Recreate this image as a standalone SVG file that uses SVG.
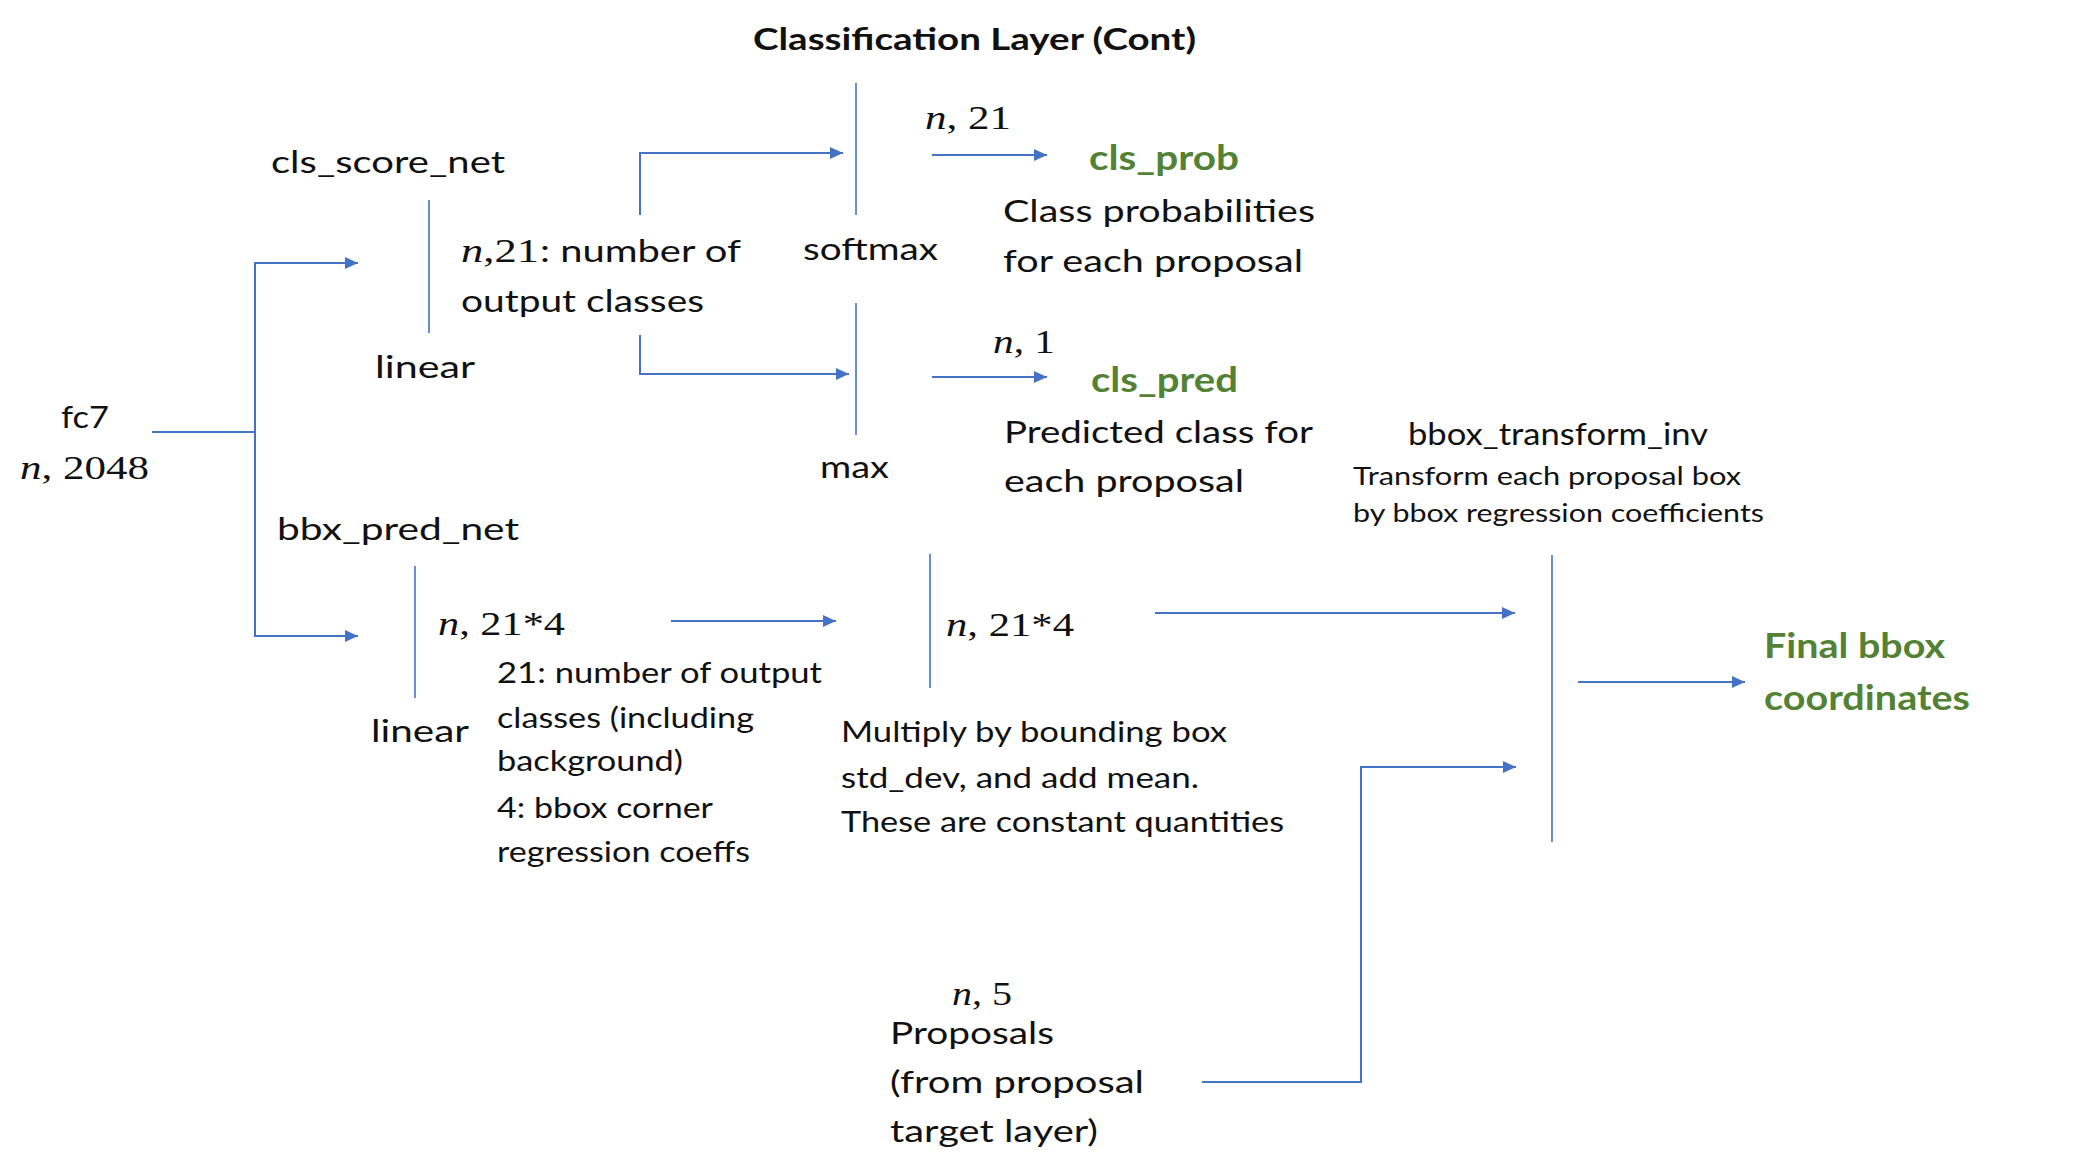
<svg xmlns="http://www.w3.org/2000/svg" width="2074" height="1166" viewBox="0 0 2074 1166">
<style>
.t{font-family:Lato,"Open Sans","Liberation Sans",sans-serif;fill:#111;font-size:31px}
.s{font-size:28px}
.xs{font-size:25px}
.b{font-weight:bold}
.g{fill:#548235;font-weight:bold;font-size:34px}
.m{font-family:"Liberation Serif","DejaVu Serif",serif;fill:#111;font-size:34px}
.i{font-style:italic}
.c{fill:none;stroke:#4472C4;stroke-width:2}
.bar{fill:none;stroke:#4472C4;stroke-width:1.6}
</style>
<defs>
<marker id="ah" markerUnits="userSpaceOnUse" markerWidth="14" markerHeight="12" refX="13" refY="6" orient="auto">
<path d="M0,0 L13,6 L0,12 z" fill="#4472C4"/>
</marker>
</defs>
<rect width="2074" height="1166" fill="#fff"/>

<g id="title"><text class="t b" x="753" y="50" font-size="33" textLength="443" lengthAdjust="spacingAndGlyphs">Classification Layer (Cont)</text></g>

<g id="connectors">
<path class="c" d="M152,432 H255"/>
<path class="c" d="M255,432 V263 H358" marker-end="url(#ah)"/>
<path class="c" d="M255,432 V636 H358" marker-end="url(#ah)"/>
<path class="c" d="M640,215 V153 H843" marker-end="url(#ah)"/>
<path class="c" d="M640,335 V374 H849" marker-end="url(#ah)"/>
<path class="c" d="M932,155 H1047" marker-end="url(#ah)"/>
<path class="c" d="M932,377 H1047" marker-end="url(#ah)"/>
<path class="c" d="M671,621 H836" marker-end="url(#ah)"/>
<path class="c" d="M1155,613 H1515" marker-end="url(#ah)"/>
<path class="c" d="M1202,1082 H1361 V767 H1516" marker-end="url(#ah)"/>
<path class="c" d="M1578,682 H1745" marker-end="url(#ah)"/>
</g>

<g id="fc7">
<text class="t" x="61" y="428" textLength="48" lengthAdjust="spacingAndGlyphs">fc7</text>
<text class="m" x="20" y="479" font-size="42" textLength="129" lengthAdjust="spacingAndGlyphs"><tspan class="i">n</tspan>, 2048</text>
</g>

<g id="cls_score_net">
<text class="t" x="271" y="173" textLength="234" lengthAdjust="spacingAndGlyphs">cls_score_net</text>
<line class="bar" x1="429" y1="200" x2="429" y2="333"/>
<text class="t" x="375" y="378" textLength="100" lengthAdjust="spacingAndGlyphs">linear</text>
<text class="m" x="461" y="262" font-size="35" textLength="78" lengthAdjust="spacingAndGlyphs"><tspan class="i">n</tspan>,21</text>
<text class="t" x="540" y="262" textLength="201" lengthAdjust="spacingAndGlyphs">: number of</text>
<text class="t" x="461" y="312" textLength="243" lengthAdjust="spacingAndGlyphs">output classes</text>
</g>

<g id="softmax">
<line class="bar" x1="856" y1="83" x2="856" y2="215"/>
<text class="t" x="803" y="260" textLength="135" lengthAdjust="spacingAndGlyphs">softmax</text>
<text class="m" x="925" y="129" textLength="86" lengthAdjust="spacingAndGlyphs"><tspan class="i">n</tspan>, 21</text>
</g>

<g id="max">
<line class="bar" x1="856" y1="303" x2="856" y2="435"/>
<text class="t" x="820" y="478" textLength="69" lengthAdjust="spacingAndGlyphs">max</text>
<text class="m" x="993" y="353" textLength="62" lengthAdjust="spacingAndGlyphs"><tspan class="i">n</tspan>, 1</text>
</g>

<g id="cls_prob">
<text class="t g" x="1089" y="170" textLength="150" lengthAdjust="spacingAndGlyphs">cls_prob</text>
<text class="t" x="1003" y="222" textLength="312" lengthAdjust="spacingAndGlyphs">Class probabilities</text>
<text class="t" x="1003" y="272" textLength="300" lengthAdjust="spacingAndGlyphs">for each proposal</text>
</g>

<g id="cls_pred">
<text class="t g" x="1091" y="392" textLength="147" lengthAdjust="spacingAndGlyphs">cls_pred</text>
<text class="t" x="1004" y="443" textLength="309" lengthAdjust="spacingAndGlyphs">Predicted class for</text>
<text class="t" x="1004" y="492" textLength="240" lengthAdjust="spacingAndGlyphs">each proposal</text>
</g>

<g id="bbx_pred_net">
<text class="t" x="277" y="540" textLength="242" lengthAdjust="spacingAndGlyphs">bbx_pred_net</text>
<line class="bar" x1="415" y1="566" x2="415" y2="698"/>
<text class="t" x="371" y="742" textLength="98" lengthAdjust="spacingAndGlyphs">linear</text>
<text class="m" x="438" y="635" font-size="35" textLength="127" lengthAdjust="spacingAndGlyphs"><tspan class="i">n</tspan>, 21*4</text>
<text class="t s" x="497" y="683" textLength="325" lengthAdjust="spacingAndGlyphs">21: number of output</text>
<text class="t s" x="497" y="728" textLength="257" lengthAdjust="spacingAndGlyphs">classes (including</text>
<text class="t s" x="497" y="771" textLength="186" lengthAdjust="spacingAndGlyphs">background)</text>
<text class="t s" x="497" y="818" textLength="216" lengthAdjust="spacingAndGlyphs">4: bbox corner</text>
<text class="t s" x="497" y="862" textLength="253" lengthAdjust="spacingAndGlyphs">regression coeffs</text>
</g>

<g id="normalize">
<line class="bar" x1="930" y1="554" x2="930" y2="688"/>
<text class="m" x="946" y="636" font-size="36" textLength="128" lengthAdjust="spacingAndGlyphs"><tspan class="i">n</tspan>, 21*4</text>
<text class="t s" x="841" y="742" textLength="386" lengthAdjust="spacingAndGlyphs">Multiply by bounding box</text>
<text class="t s" x="841" y="788" textLength="358" lengthAdjust="spacingAndGlyphs">std_dev, and add mean.</text>
<text class="t s" x="841" y="832" textLength="443" lengthAdjust="spacingAndGlyphs">These are constant quantities</text>
</g>

<g id="bbox_transform_inv">
<line class="bar" x1="1552" y1="555" x2="1552" y2="842"/>
<text class="t" x="1408" y="445" font-size="30" textLength="300" lengthAdjust="spacingAndGlyphs">bbox_transform_inv</text>
<text class="t xs" x="1353" y="485" textLength="388" lengthAdjust="spacingAndGlyphs">Transform each proposal box</text>
<text class="t xs" x="1353" y="522" textLength="411" lengthAdjust="spacingAndGlyphs">by bbox regression coefficients</text>
</g>

<g id="final_bbox">
<text class="t g" x="1764" y="658" font-size="35" textLength="181" lengthAdjust="spacingAndGlyphs">Final bbox</text>
<text class="t g" x="1764" y="710" font-size="35" textLength="206" lengthAdjust="spacingAndGlyphs">coordinates</text>
</g>

<g id="proposals">
<text class="m" x="952" y="1005" font-size="30" textLength="60" lengthAdjust="spacingAndGlyphs"><tspan class="i">n</tspan>, 5</text>
<text class="t" x="890" y="1044" font-size="30" textLength="164" lengthAdjust="spacingAndGlyphs">Proposals</text>
<text class="t" x="890" y="1093" font-size="30" textLength="254" lengthAdjust="spacingAndGlyphs">(from proposal</text>
<text class="t" x="890" y="1142" font-size="30" textLength="208" lengthAdjust="spacingAndGlyphs">target layer)</text>
</g>
</svg>
